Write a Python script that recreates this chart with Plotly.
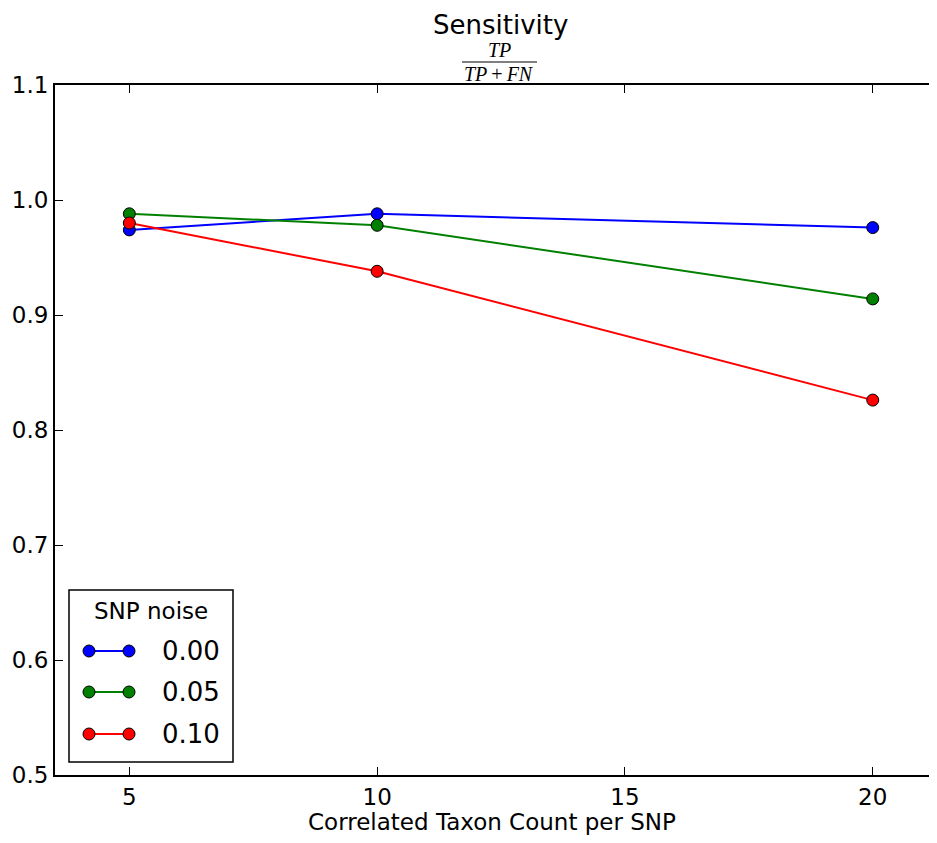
import plotly.graph_objects as go

# ---- data ----
taxon_counts = [5, 10, 20]
noise_levels = ["0.00", "0.05", "0.10"]
sens_000 = [0.974, 0.988, 0.976]
sens_005 = [0.988, 0.978, 0.914]
sens_010 = [0.980, 0.938, 0.826]
series_colors = ["#0000ff", "#008000", "#ff0000"]
y_ticks = [0.5, 0.6, 0.7, 0.8, 0.9, 1.0, 1.1]
x_ticks = [5, 10, 15, 20]

# page has an 8px body margin; keep figure inside the 937x843 window
OFF = 8
W, H = 921, 827
L, R, T, B = 47, 0, 77, 60
PW, PH = W - L - R, H - T - B


def px(x):
    """page x pixel -> paper coordinate"""
    return (x - OFF - L) / PW


def py(y):
    """page y pixel -> paper coordinate"""
    return (H - B - (y - OFF)) / PH


fig = go.Figure()
for vals, col, name in zip([sens_000, sens_005, sens_010], series_colors, noise_levels):
    fig.add_trace(go.Scatter(
        x=taxon_counts, y=vals, mode="lines+markers", name=name,
        line=dict(color=col, width=2),
        marker=dict(color=col, size=12, line=dict(color="black", width=1)),
        showlegend=False, cliponaxis=False,
    ))

font = "DejaVu Sans, Arial, sans-serif"
serif = "Liberation Serif, Times New Roman, serif"

shapes = []
annotations = []

# title and fraction
annotations.append(dict(text="Sensitivity", xref="paper", yref="paper", x=px(500), y=py(8),
                        xanchor="center", yanchor="top", height=30, showarrow=False,
                        font=dict(family=font, size=26, color="black")))
annotations.append(dict(text="<i>TP</i>", xref="paper", yref="paper", x=px(499), y=py(50.5),
                        xanchor="center", yanchor="middle", height=18, showarrow=False,
                        font=dict(family=serif, size=20, color="black")))
annotations.append(dict(text="<i>TP</i>\u2009+\u2009<i>FN</i>", xref="paper", yref="paper",
                        x=px(499), y=py(73.5),
                        xanchor="center", yanchor="middle", height=18, showarrow=False,
                        font=dict(family=serif, size=20, color="black")))
shapes.append(dict(type="line", xref="paper", yref="paper", x0=px(462), x1=px(537),
                   y0=py(62), y1=py(62), line=dict(color="black", width=1.2)))

# manual legend
shapes.append(dict(type="rect", xref="paper", yref="paper", x0=px(69), x1=px(233),
                   y0=py(590), y1=py(762), line=dict(color="black", width=1.5),
                   fillcolor="white", layer="above"))
annotations.append(dict(text="SNP noise", xref="paper", yref="paper", x=px(151), y=py(611),
                        xanchor="center", yanchor="middle", showarrow=False,
                        font=dict(family=font, size=23, color="black")))
row_y = [651, 692, 734]
for ry, col, name in zip(row_y, series_colors, noise_levels):
    shapes.append(dict(type="line", xref="paper", yref="paper", x0=px(89), x1=px(129),
                       y0=py(ry), y1=py(ry), line=dict(color=col, width=2), layer="above"))
    for mx in (89, 129):
        shapes.append(dict(type="circle", xref="paper", yref="paper", xsizemode="pixel",
                           ysizemode="pixel", xanchor=px(mx), yanchor=py(ry),
                           x0=-6, x1=6, y0=-6, y1=6, fillcolor=col,
                           line=dict(color="black", width=1), layer="above"))
    annotations.append(dict(text=name, xref="paper", yref="paper", x=px(160), y=py(ry),
                            xanchor="left", yanchor="middle", showarrow=False,
                            font=dict(family=font, size=26, color="black")))

fig.update_layout(
    width=W, height=H,
    margin=dict(l=L, r=R, t=T, b=B, pad=0, autoexpand=False),
    paper_bgcolor="white", plot_bgcolor="white",
    font=dict(family=font, color="black"),
    shapes=shapes, annotations=annotations,
    xaxis=dict(range=[3.5, 3.5 + PW / 49.56], tickvals=x_ticks, ticks="inside", ticklen=8,
               tickcolor="black", tickwidth=1, showline=True, linecolor="black", linewidth=2,
               mirror="ticks", showgrid=False, zeroline=False, automargin=False,
               tickfont=dict(size=23, family=font, color="black"),
               title=dict(text="Correlated Taxon Count per SNP",
                          font=dict(size=23, family=font, color="black"), standoff=13)),
    yaxis=dict(range=[0.5, 1.1], tickvals=y_ticks, ticktext=[f"{v:.1f}" for v in y_ticks],
               ticks="inside", ticklen=8, tickcolor="black", tickwidth=1,
               showline=True, linecolor="black", linewidth=2, mirror=False,
               showgrid=False, zeroline=False, automargin=False,
               tickfont=dict(size=23, family=font, color="black")),
)

fig.write_html("out.html")
